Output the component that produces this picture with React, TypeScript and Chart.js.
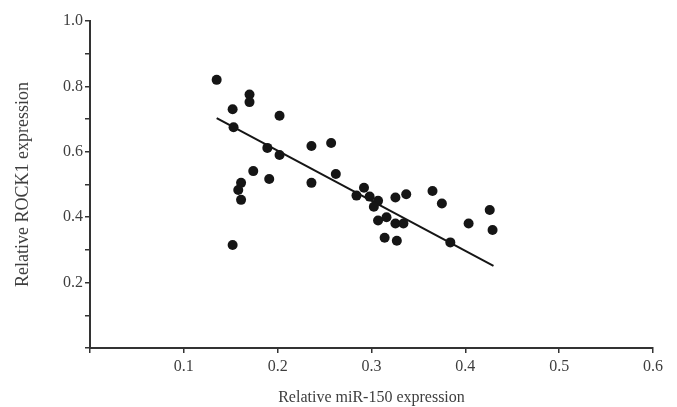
import React, { useEffect, useRef } from "react";
import { Chart, registerables } from "chart.js";

Chart.register(...registerables);

const mirX = [
  0.135, 0.152, 0.17, 0.17, 0.153, 0.202, 0.189, 0.202, 0.174, 0.191, 0.161, 0.158, 0.161, 0.152,
  0.236, 0.257, 0.236, 0.262, 0.284, 0.292, 0.298, 0.307, 0.3025, 0.307, 0.316, 0.3255, 0.337,
  0.3255, 0.334, 0.314, 0.327, 0.365, 0.375, 0.384, 0.4035, 0.426, 0.429,
];
const rockY = [
  0.82, 0.73, 0.775, 0.752, 0.675, 0.71, 0.612, 0.59, 0.541, 0.517, 0.505, 0.483, 0.453, 0.315,
  0.618, 0.627, 0.505, 0.532, 0.466, 0.49, 0.463, 0.45, 0.432, 0.39, 0.4, 0.46, 0.47,
  0.381, 0.381, 0.337, 0.328, 0.48, 0.442, 0.323, 0.381, 0.422, 0.361,
];
const fitX = [0.135, 0.43];
const fitY = [0.703, 0.251];

const xTitle = "Relative miR-150 expression";
const yTitle = "Relative ROCK1 expression";

export default function App() {
  const ref = useRef<HTMLCanvasElement | null>(null);
  useEffect(() => {
    if (!ref.current) return;
    const family = "'Liberation Serif', 'Times New Roman', serif";
    const tickFont = { family, size: 16 };
    const chart = new Chart(ref.current, {
      type: "scatter",
      data: {
        datasets: [
          {
            type: "scatter",
            data: mirX.map((x, i) => ({ x, y: rockY[i] })),
            pointRadius: 5,
            pointHoverRadius: 5,
            backgroundColor: "#151515",
            borderColor: "#151515",
            borderWidth: 0,
          },
          {
            type: "line",
            data: fitX.map((x, i) => ({ x, y: fitY[i] })),
            pointRadius: 0,
            borderColor: "#151515",
            borderWidth: 2,
            fill: false,
          } as any,
        ],
      },
      options: {
        animation: false,
        responsive: false,
        maintainAspectRatio: false,
        layout: { padding: { top: 21, right: 24, left: 0, bottom: 0 } },
        plugins: { legend: { display: false }, tooltip: { enabled: false } },
        scales: {
          x: {
            type: "linear",
            min: 0,
            max: 0.6,
            afterFit: (s: any) => {
              s.height = 59;
            },
            ticks: {
              stepSize: 0.1,
              color: "#3e3e3e",
              font: tickFont,
              padding: 4,
              maxRotation: 0,
              callback: (v: any) => (Number(v) > 0.001 ? Number(v).toFixed(1) : ""),
            },
            grid: {
              display: true,
              drawOnChartArea: false,
              drawTicks: true,
              tickLength: 5,
              color: "#333",
              lineWidth: 1.5,
            },
            border: { display: true, color: "#333", width: 2 },
            title: {
              display: true,
              text: xTitle,
              color: "#3e3e3e",
              font: { family, size: 16 },
              padding: { top: 6, bottom: 0 },
            },
          },
          y: {
            type: "linear",
            min: 0,
            max: 1.0,
            afterFit: (s: any) => {
              s.width = 90;
            },
            ticks: {
              stepSize: 0.1,
              color: "#3e3e3e",
              font: tickFont,
              padding: 2,
              callback: (v: any) => {
                const n = Math.round(Number(v) * 10);
                return n > 0 && n % 2 === 0 ? (n / 10).toFixed(1) : "";
              },
            },
            grid: {
              display: true,
              drawOnChartArea: false,
              drawTicks: true,
              tickLength: 5,
              color: "#333",
              lineWidth: 1.5,
            },
            border: { display: true, color: "#333", width: 2 },
            title: {
              display: true,
              text: yTitle,
              color: "#3e3e3e",
              font: { family, size: 18 },
              padding: { top: 12, bottom: 0 },
            },
          },
        },
      },
    });
    return () => chart.destroy();
  }, []);
  return (
    <div style={{ position: "fixed", left: 0, top: 0, width: 677, height: 407, background: "#fff" }}>
      <canvas ref={ref} width={677} height={407} style={{ width: 677, height: 407 }} />
    </div>
  );
}
